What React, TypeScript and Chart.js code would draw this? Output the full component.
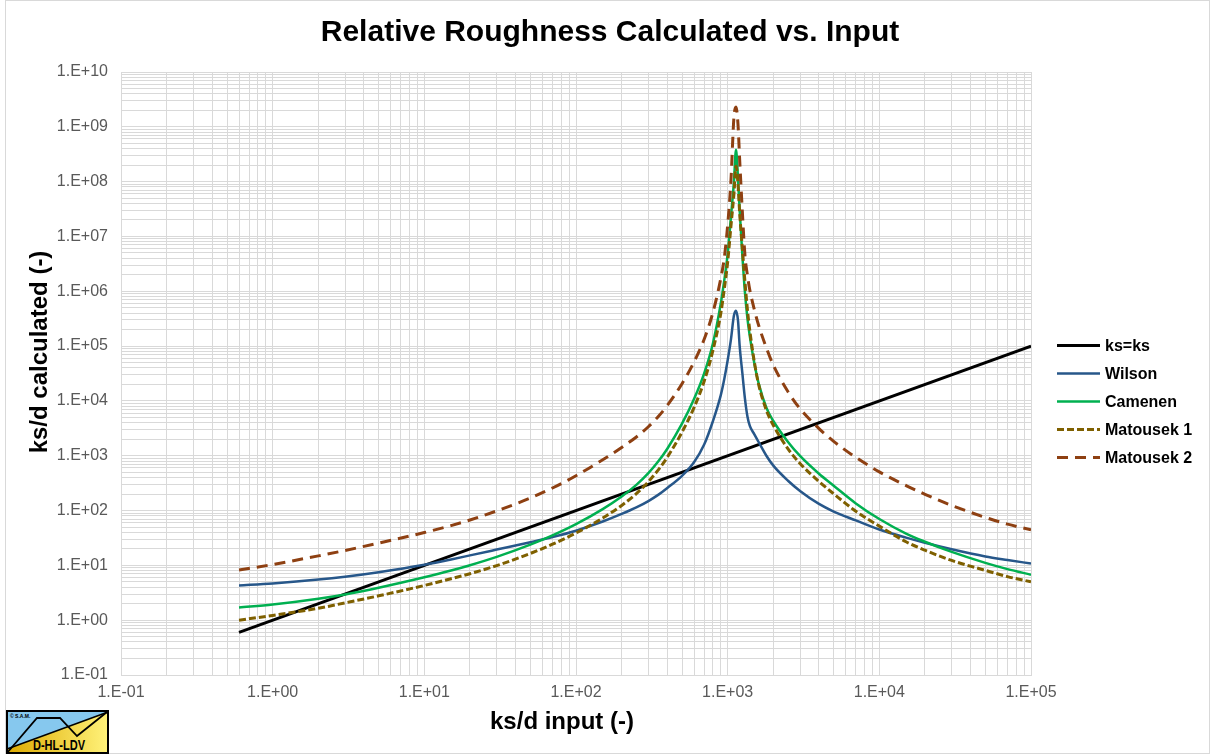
import React, { useEffect, useRef } from 'react';
import { Chart, registerables } from 'chart.js';

Chart.register(...registerables);

// ---------- data ----------
const TITLE = 'Relative Roughness Calculated vs. Input';
const X_TITLE = 'ks/d input (-)';
const Y_TITLE = 'ks/d calculated (-)';

const SERIES_NAMES = ['ks=ks', 'Wilson', 'Camenen', 'Matousek 1', 'Matousek 2'];

const KS_X = [0.6, 100000];
const KS_Y = [0.6, 100000];

const X_INPUT = [
  0.6, 1, 2, 3, 5, 10, 15, 20, 30, 50,
  70, 100, 150, 200, 250, 300, 350, 400, 500, 600,
  700, 800, 900, 950, 1000, 1050, 1100, 1135, 1170, 1200,
  1250, 1300, 1350, 1400, 1500, 1600, 1800, 2000, 2500, 3000,
  4000, 5000, 7000, 10000, 15000, 20000, 30000, 50000, 70000, 100000,
];

const WILSON = [
  4.3, 4.69, 5.5, 6.21, 7.51, 10.25, 12.8, 15.2, 19.4, 26.4,
  32.8, 42.9, 63, 86.6, 114, 149, 195, 258, 430, 760,
  1600, 4300, 12600, 25000, 55000, 130000, 360000, 440000, 290000, 100000,
  32000, 11000, 5200, 3500, 2450, 1780, 1000, 660, 350, 228,
  132, 96, 66, 45, 32, 25.8, 19.6, 14.5, 12.5, 10.8,
];

const CAMENEN = [
  1.7, 1.93, 2.46, 2.95, 3.91, 6.06, 8.04, 10.07, 14.3, 23.9,
  35.2, 56.4, 106, 180, 294, 480, 798, 1343, 3840, 10800,
  31800, 113000, 590000, 1.6e6, 4.8e6, 2.2e7, 1.0e8, 3.8e8, 1.15e8, 3.0e7,
  4.5e6, 9.5e5, 3.2e5, 1.5e5, 48000, 21000, 7500, 4300, 1780, 990,
  469, 284, 135, 70, 38, 27, 17.6, 11.1, 8.55, 6.76,
];

const MATOUSEK_1 = [
  1.0, 1.22, 1.65, 2.07, 2.78, 4.3, 5.7, 7.05, 9.9, 16.5,
  24.3, 38.9, 73, 124, 203, 336, 559, 940, 2690, 7560,
  22900, 84000, 390000, 1.1e6, 3.4e6, 1.5e7, 6.0e7, 1.9e8, 9.0e7, 2.7e7,
  6.0e6, 1.5e6, 4.6e5, 1.9e5, 51000, 20000, 6750, 3600, 1335, 723,
  338, 202, 97, 52, 27, 18.9, 12.3, 8.1, 6.24, 5.0,
];

const MATOUSEK_2 = [
  8.2, 10.37, 14.9, 18.7, 25.5, 39.7, 53.1, 67.2, 98.4, 169,
  258, 432, 844, 1416, 2200, 3380, 5250, 8260, 20600, 51300,
  133000, 415000, 1.7e6, 4.05e6, 1.6e7, 1.0e8, 1.5e9, 2.3e9, 1.1e9, 2.5e8,
  2.8e7, 4.5e6, 1.95e6, 1.05e6, 4.6e5, 2.4e5, 93000, 45000, 14700, 7200,
  3130, 1830, 933, 508, 286, 198, 124, 75, 56.5, 44.4,
];

const X_MIN = 0.1;
const X_MAX = 100000;
const Y_MIN = 0.1;
const Y_MAX = 1e10;

// ---------- styles ----------
const COLORS = ['#000000', '#27578A', '#00B050', '#7F6000', '#8E4012'];
const WIDTHS = [3, 2.5, 2.5, 3, 3];
const DASHES: number[][] = [[], [], [], [7, 3], [11, 7]];
const FONT = '"Liberation Sans", Arial, Helvetica, sans-serif';

function logTicks(min: number, max: number) {
  const out: { value: number }[] = [];
  const e0 = Math.round(Math.log10(min));
  const e1 = Math.round(Math.log10(max));
  for (let e = e0; e <= e1; e++) {
    for (let m = 1; m <= 9; m++) {
      const v = parseFloat((m * Math.pow(10, e)).toPrecision(8));
      if (v > max * 1.000001) break;
      out.push({ value: v });
    }
  }
  return out;
}

function fmt(v: number) {
  const e = Math.round(Math.log10(v));
  const p = Math.pow(10, e);
  if (Math.abs(v - p) / p > 1e-6) return '';
  return `1.E${e < 0 ? '-' : '+'}${String(Math.abs(e)).padStart(2, '0')}`;
}

const decorPlugin = {
  id: 'decor',
  afterDraw(chart: any) {
    const { ctx } = chart;
    ctx.save();
    // chart border
    ctx.strokeStyle = '#d9d9d9';
    ctx.lineWidth = 1;
    ctx.strokeRect(5.5, 0.5, 1204, 753);
    // title
    ctx.fillStyle = '#000000';
    ctx.textAlign = 'center';
    ctx.textBaseline = 'middle';
    ctx.font = `bold 30px ${FONT}`;
    ctx.fillText(TITLE, 610, 33);
    // axis titles
    ctx.font = `bold 24px ${FONT}`;
    ctx.fillText(X_TITLE, 562, 722);
    ctx.save();
    ctx.translate(40, 352);
    ctx.rotate(-Math.PI / 2);
    ctx.fillText(Y_TITLE, 0, 0);
    ctx.restore();
    // legend
    ctx.font = `bold 16px ${FONT}`;
    ctx.textAlign = 'left';
    for (let i = 0; i < SERIES_NAMES.length; i++) {
      const y = 345.5 + i * 28;
      ctx.save();
      ctx.strokeStyle = COLORS[i];
      ctx.lineWidth = WIDTHS[i];
      ctx.setLineDash(DASHES[i]);
      ctx.beginPath();
      ctx.moveTo(1057, y);
      ctx.lineTo(1100, y);
      ctx.stroke();
      ctx.restore();
      ctx.fillStyle = '#000000';
      ctx.fillText(SERIES_NAMES[i], 1105, y + 1);
    }
    ctx.restore();
  },
};

function Logo() {
  return (
    <svg
      style={{ position: 'absolute', left: 6, top: 710 }}
      width={103}
      height={44}
      viewBox="0 0 103 44"
    >
      <defs>
        <linearGradient id="logoGrad" x1="0" x2="1" y1="0" y2="0">
          <stop offset="0" stopColor="#DDAA00" />
          <stop offset="1" stopColor="#FFF27A" />
        </linearGradient>
      </defs>
      <rect x="1" y="1" width="101" height="42" fill="url(#logoGrad)" />
      <polygon points="1,1 102,1 102,2 1,39" fill="#86C8EE" />
      <line x1="1" y1="39" x2="102" y2="2" stroke="#000" strokeWidth="1.5" />
      <polyline points="1,43 31,8 54,8 71,26 101,2" fill="none" stroke="#000" strokeWidth="1.8" />
      <rect x="1" y="1" width="101" height="42" fill="none" stroke="#000" strokeWidth="2" />
      <text
        x="53"
        y="40"
        textAnchor="middle"
        fontFamily={FONT}
        fontWeight="bold"
        fontSize="14"
        textLength="52"
        lengthAdjust="spacingAndGlyphs"
      >
        D-HL-LDV
      </text>
      <text x="4" y="7.5" fontFamily={FONT} fontWeight="bold" fontSize="5">
        © S.A.M.
      </text>
    </svg>
  );
}

export default function App() {
  const ref = useRef<HTMLCanvasElement | null>(null);

  useEffect(() => {
    if (!ref.current) return;
    const mk = (ys: number[]) => X_INPUT.map((x, i) => ({ x, y: ys[i] }));
    const seriesData = [
      KS_X.map((x, i) => ({ x, y: KS_Y[i] })),
      mk(WILSON),
      mk(CAMENEN),
      mk(MATOUSEK_1),
      mk(MATOUSEK_2),
    ];
    const chart = new Chart(ref.current, {
      type: 'line',
      data: {
        datasets: seriesData.map((d, i) => ({
          label: SERIES_NAMES[i],
          data: d,
          borderColor: COLORS[i],
          backgroundColor: COLORS[i],
          borderWidth: WIDTHS[i],
          borderDash: DASHES[i],
          pointRadius: 0,
          pointHoverRadius: 0,
          fill: false,
          cubicInterpolationMode: 'monotone' as const,
          order: SERIES_NAMES.length - i,
        })),
      },
      options: {
        animation: false,
        responsive: false,
        maintainAspectRatio: false,
        layout: { padding: { left: 0, right: 180, top: 72, bottom: 0 } },
        plugins: {
          legend: { display: false },
          title: { display: false },
          tooltip: { enabled: false },
        },
        scales: {
          x: {
            type: 'logarithmic',
            min: X_MIN,
            max: X_MAX,
            afterBuildTicks: (s: any) => {
              s.ticks = logTicks(X_MIN, X_MAX);
            },
            afterFit: (s: any) => {
              s.height = 80;
            },
            grid: { color: '#d9d9d9', lineWidth: 1, drawTicks: false },
            border: { display: true, color: '#d9d9d9' },
            ticks: {
              autoSkip: false,
              maxRotation: 0,
              minRotation: 0,
              padding: 8,
              color: '#595959',
              font: { family: FONT, size: 16 },
              callback: (v: any) => fmt(Number(v)),
            },
          },
          y: {
            type: 'logarithmic',
            min: Y_MIN,
            max: Y_MAX,
            afterBuildTicks: (s: any) => {
              s.ticks = logTicks(Y_MIN, Y_MAX);
            },
            afterFit: (s: any) => {
              s.width = 121;
            },
            grid: { color: '#d9d9d9', lineWidth: 1, drawTicks: false },
            border: { display: true, color: '#d9d9d9' },
            ticks: {
              autoSkip: false,
              padding: 13,
              color: '#595959',
              font: { family: FONT, size: 16 },
              callback: (v: any) => fmt(Number(v)),
            },
          },
        },
      },
      plugins: [decorPlugin],
    });
    return () => chart.destroy();
  }, []);

  return (
    <div
      style={{
        position: 'fixed',
        left: 0,
        top: 0,
        width: 1211,
        height: 755,
        background: '#ffffff',
      }}
    >
      <canvas ref={ref} width={1211} height={755} style={{ display: 'block' }} />
      <Logo />
    </div>
  );
}
